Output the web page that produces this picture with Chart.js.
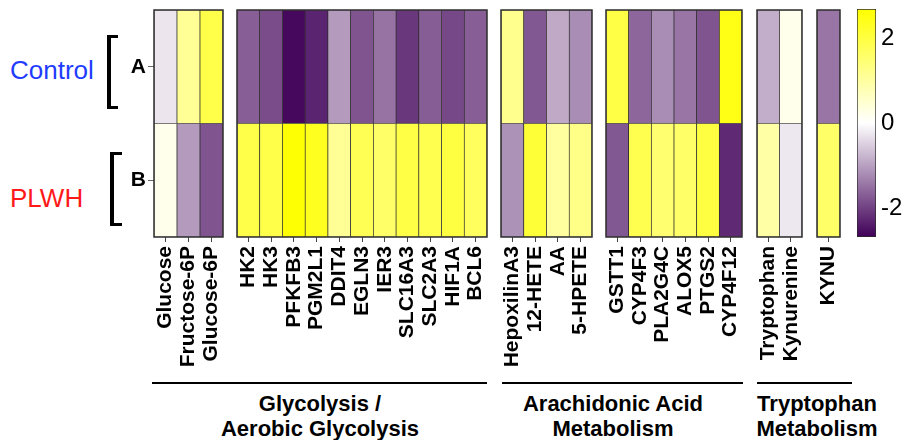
<!DOCTYPE html>
<html>
<head>
<meta charset="utf-8">
<script src="https://cdn.jsdelivr.net/npm/chart.js@4.4.1/dist/chart.umd.min.js"></script>
<style>
    body { margin: 0; background: #fff; font-family: "Liberation Sans", Arial, sans-serif; }
    #figura { position: relative; width: 906px; height: 440px; overflow: hidden; background: #fff; }
    #figura canvas { position: absolute; top: 0; }
    .grupo { position: absolute; width: 240px; font-size: 22px; font-weight: bold; line-height: 25px; text-align: center; color: #000; }
    .linha { position: absolute; top: 382px; height: 2px; background: #000; }
    .condicao { position: absolute; left: 10px; font-size: 26px; line-height: 26px; }
    .colchete { position: absolute; box-sizing: border-box; border: 3px solid #000; border-left-width: 4px; border-right: none; }
</style>
</head>
<body>
<div id="figura">
    <div class="condicao" style="top: 57px; color: #1f3cff;">Control</div>
    <div class="condicao" style="top: 185px; color: #ff1a1a;">PLWH</div>
    <div class="colchete" style="left: 107px; top: 35px; width: 11px; height: 74px;"></div>
    <div class="colchete" style="left: 110px; top: 152px; width: 12px; height: 74px;"></div>

    <canvas id="painelGlicose" width="103" height="380" style="left: 124px;"></canvas>
    <canvas id="painelGenesGlicolise" width="258" height="380" style="left: 233px;"></canvas>
    <canvas id="painelMetabolitosAA" width="99" height="380" style="left: 497px;"></canvas>
    <canvas id="painelGenesAA" width="144" height="380" style="left: 602px;"></canvas>
    <canvas id="painelTriptofano" width="53" height="380" style="left: 753px;"></canvas>
    <canvas id="painelGenesTriptofano" width="31" height="380" style="left: 813px;"></canvas>
    <canvas id="barraCor" width="53" height="241" style="left: 853px;"></canvas>

    <div class="linha" style="left: 152px; width: 335px;"></div>
    <div class="linha" style="left: 502px; width: 241px;"></div>
    <div class="linha" style="left: 757px; width: 95px;"></div>
    <div class="grupo" style="left: 200px; top: 391px;">Glycolysis /<br>Aerobic Glycolysis</div>
    <div class="grupo" style="left: 493px; top: 391px;">Arachidonic Acid<br>Metabolism</div>
    <div class="grupo" style="left: 697px; top: 391px;">Tryptophan<br>Metabolism</div>
</div>

<script>
// valores do heatmap (z-score), linha A = Control, linha B = PLWH
const linhas = ['A', 'B'];

const rotulosGlicose = ['Glucose', 'Fructose-6P', 'Glucose-6P'];
const controleGlicose = [-0.27, 1.1, 1.9];
const plwhGlicose = [0.2, -1.05, -1.8];

const rotulosGenesGlicolise = ['HK2', 'HK3', 'PFKFB3', 'PGM2L1', 'DDIT4', 'EGLN3', 'IER3', 'SLC16A3', 'SLC2A3', 'HIF1A', 'BCL6'];
const controleGenesGlicolise = [-1.68, -1.87, -2.6, -2.3, -1.05, -1.8, -1.47, -2.1, -1.7, -1.92, -1.68];
const plwhGenesGlicolise = [1.9, 1.9, 2.65, 2.35, 1.1, 1.8, 1.6, 1.95, 1.85, 2.0, 1.7];

const rotulosMetabolitosAA = ['HepoxilinA3', '12-HETE', 'AA', '5-HPETE'];
const controleMetabolitosAA = [1.2, -1.75, -0.9, -1.2];
const plwhMetabolitosAA = [-1.15, 2.1, 1.0, 1.25];

const rotulosGenesAA = ['GSTT1', 'CYP4F3', 'PLA2G4C', 'ALOX5', 'PTGS2', 'CYP4F12'];
const controleGenesAA = [1.95, -1.6, -1.2, -1.45, -1.8, 2.45];
const plwhGenesAA = [-1.75, 1.85, 1.5, 1.6, 2.0, -2.25];

const rotulosTriptofano = ['Tryptophan', 'Kynurenine'];
const controleTriptofano = [-0.85, 0.2];
const plwhTriptofano = [0.95, -0.25];

const rotulosGenesTriptofano = ['KYNU'];
const controleGenesTriptofano = [-1.45];
const plwhGenesTriptofano = [1.6];

const ticksBarraCor = [-2, 0, 2];
const limiteCor = 2.68;

const fonte = '"Liberation Sans", Arial, sans-serif';
Chart.defaults.font.family = fonte;

// escala de cor: roxo -> branco -> amarelo
function corDoValor(v) {
    const t = Math.min(Math.abs(v) / limiteCor, 1);
    if (v >= 0) {
        return `rgb(255, 255, ${Math.round(255 * (1 - t))})`;
    }
    const r = Math.round(255 - (255 - 64) * t);
    const g = Math.round(255 - 255 * t);
    const b = Math.round(255 - (255 - 88) * t);
    return `rgb(${r}, ${g}, ${b})`;
}

const contornoPainel = {
    id: 'contornoPainel',
    afterDatasetsDraw(chart) {
        const { ctx, chartArea } = chart;
        ctx.save();
        ctx.strokeStyle = '#333';
        ctx.lineWidth = 1.5;
        ctx.strokeRect(chartArea.left, chartArea.top, chartArea.right - chartArea.left, chartArea.bottom - chartArea.top);
        ctx.restore();
    }
};

function criarPainel(idCanvas, rotulos, valoresA, valoresB, mostrarLinhas) {
    const celula = {
        borderColor: '#2b2b2b',
        borderWidth: 0.7,
        borderSkipped: false,
        categoryPercentage: 1,
        barPercentage: 1,
        clip: false
    };

    const config = {
        type: 'bar',
        data: {
            labels: rotulos,
            datasets: [
                Object.assign({ label: linhas[1], data: rotulos.map(() => 1), backgroundColor: valoresB.map(corDoValor) }, celula),
                Object.assign({ label: linhas[0], data: rotulos.map(() => 1), backgroundColor: valoresA.map(corDoValor) }, celula)
            ]
        },
        options: {
            responsive: false,
            animation: false,
            layout: { padding: { top: 10, left: mostrarLinhas ? 0 : 4, right: 4, bottom: 0 } },
            plugins: {
                legend: { display: false },
                tooltip: { enabled: false }
            },
            scales: {
                x: {
                    stacked: true,
                    border: { display: false },
                    grid: { drawOnChartArea: false, drawTicks: true, tickLength: 5, offset: false, color: '#444' },
                    ticks: {
                        autoSkip: false,
                        maxRotation: 90,
                        minRotation: 90,
                        padding: 4,
                        color: '#000',
                        font: { size: 21, weight: 'bold' }
                    },
                    afterFit: (escala) => {
                        escala.height = 143;
                        escala.paddingLeft = 0;
                        escala.paddingRight = 0;
                    }
                },
                y: {
                    stacked: true,
                    min: 0,
                    max: 2,
                    display: mostrarLinhas,
                    border: { display: false },
                    grid: { drawOnChartArea: false, drawTicks: true, tickLength: 6, color: '#666' },
                    ticks: {
                        padding: 2,
                        color: '#000',
                        font: { size: 21, weight: 'bold' },
                        callback: (valor) => valor > 1 ? linhas[0] : linhas[1]
                    },
                    afterBuildTicks: (escala) => {
                        escala.ticks = [{ value: 0.5 }, { value: 1.5 }];
                    },
                    afterFit: (escala) => {
                        escala.width = mostrarLinhas ? 30 : 0;
                        escala.paddingTop = 0;
                        escala.paddingBottom = 0;
                    }
                }
            }
        },
        plugins: [contornoPainel]
    };

    return new Chart(document.getElementById(idCanvas), config);
}

function criarBarraCor() {
    const config = {
        type: 'bar',
        data: {
            labels: [''],
            datasets: [{
                data: [[-limiteCor, limiteCor]],
                backgroundColor: (contexto) => {
                    const area = contexto.chart.chartArea;
                    if (!area) {
                        return '#fff';
                    }
                    const gradiente = contexto.chart.ctx.createLinearGradient(0, area.bottom, 0, area.top);
                    gradiente.addColorStop(0, corDoValor(-limiteCor));
                    gradiente.addColorStop(0.5, '#ffffff');
                    gradiente.addColorStop(1, corDoValor(limiteCor));
                    return gradiente;
                },
                borderColor: '#2b2b2b',
                borderWidth: 1,
                borderSkipped: false,
                categoryPercentage: 1,
                barPercentage: 1
            }]
        },
        options: {
            responsive: false,
            animation: false,
            layout: { padding: { top: 9, left: 4, right: 0, bottom: 4 } },
            plugins: {
                legend: { display: false },
                tooltip: { enabled: false }
            },
            scales: {
                x: { display: false },
                y: {
                    position: 'right',
                    min: -limiteCor,
                    max: limiteCor,
                    border: { display: false },
                    grid: { display: false, drawTicks: false },
                    ticks: {
                        padding: 5,
                        color: '#000',
                        font: { size: 24 }
                    },
                    afterBuildTicks: (escala) => {
                        escala.ticks = ticksBarraCor.map((v) => ({ value: v }));
                    },
                    afterFit: (escala) => {
                        escala.width = 30;
                        escala.paddingTop = 0;
                        escala.paddingBottom = 0;
                    }
                }
            }
        }
    };

    return new Chart(document.getElementById('barraCor'), config);
}

criarPainel('painelGlicose', rotulosGlicose, controleGlicose, plwhGlicose, true);
criarPainel('painelGenesGlicolise', rotulosGenesGlicolise, controleGenesGlicolise, plwhGenesGlicolise, false);
criarPainel('painelMetabolitosAA', rotulosMetabolitosAA, controleMetabolitosAA, plwhMetabolitosAA, false);
criarPainel('painelGenesAA', rotulosGenesAA, controleGenesAA, plwhGenesAA, false);
criarPainel('painelTriptofano', rotulosTriptofano, controleTriptofano, plwhTriptofano, false);
criarPainel('painelGenesTriptofano', rotulosGenesTriptofano, controleGenesTriptofano, plwhGenesTriptofano, false);
criarBarraCor();
</script>
</body>
</html>
